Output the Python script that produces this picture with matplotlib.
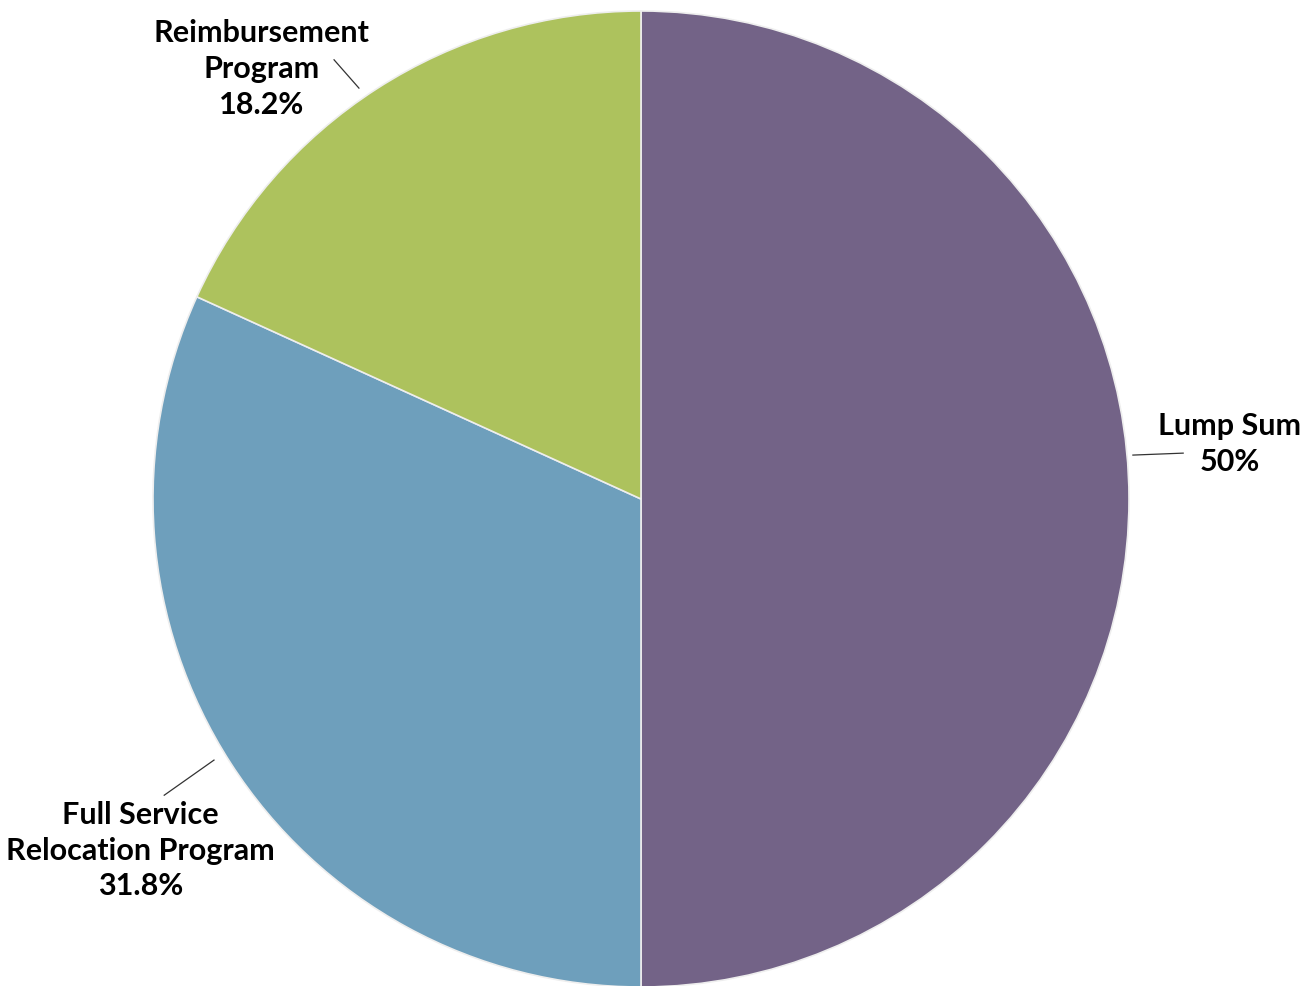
import matplotlib
matplotlib.use("Agg")
from matplotlib import pyplot as plt

# relocation program mix
labels = ["Lump Sum", "Full Service\nRelocation Program", "Reimbursement\nProgram"]
shares = [50.0, 31.8, 18.2]
share_text = ["50%", "31.8%", "18.2%"]
colors = ["#736387", "#6e9fbc", "#adc25d"]

plt.rcParams["font.family"] = ["Lato", "DejaVu Sans"]

fig = plt.figure(figsize=(13.12, 9.86), dpi=100)
ax = fig.add_axes([153 / 1312, -1 / 986, 976 / 1312, 976 / 986])

wedges, _ = ax.pie(
    shares,
    colors=colors,
    startangle=90,
    counterclock=False,
    radius=1.0,
    wedgeprops={"edgecolor": "#eeeeee", "linewidth": 1.2},
)
ax.set_xlim(-1, 1)
ax.set_ylim(-1, 1)
ax.set_aspect("equal")
ax.axis("off")

# label placement (data coords): text centre, leader start, leader end
label_pos = [(1.207, 0.113), (-1.025, -0.721), (-0.777, 0.881)]
leader_from = [(1.008, 0.090), (-0.875, -0.535), (-0.578, 0.842)]
leader_to = [(1.111, 0.094), (-0.977, -0.607), (-0.629, 0.900)]

for name, pct, pos, p0, p1 in zip(labels, share_text, label_pos, leader_from, leader_to):
    ax.plot([p0[0], p1[0]], [p0[1], p1[1]], color="#333333", linewidth=0.9,
            clip_on=False)
    ax.text(pos[0], pos[1], f"{name}\n{pct}", ha="center", va="center",
            fontsize=22, fontweight="bold", linespacing=1.33, color="black")

fig.savefig("out.png", dpi=100, facecolor="white")
